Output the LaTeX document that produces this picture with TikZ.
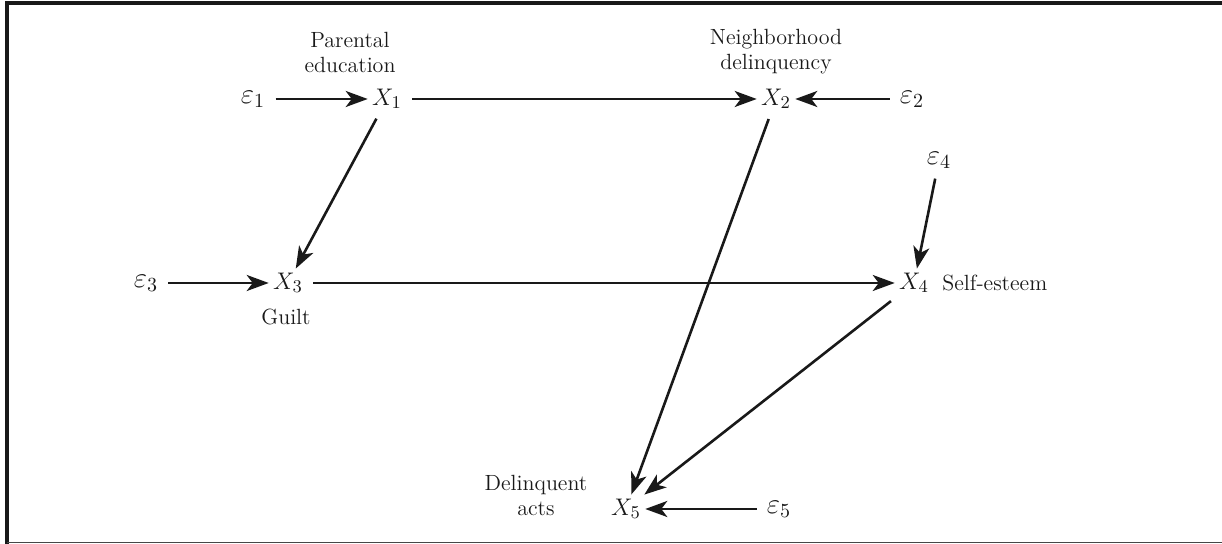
\documentclass[tikz,border=0pt]{standalone}
\usepackage{tikz}
\usetikzlibrary{arrows.meta}
\definecolor{ink}{RGB}{25,25,25}
\definecolor{rule}{RGB}{70,70,70}
\tikzset{
  var/.style={inner sep=2pt, font=\fontsize{13}{15}\selectfont, text=ink},
  err/.style={inner sep=2pt, font=\fontsize{14}{16}\selectfont, text=ink},
  lbl/.style={align=center, font=\fontsize{11}{12.5}\selectfont, text=ink, inner sep=0pt},
  arr/.style={-{Stealth[length=11pt,width=8pt,inset=3pt]}, line width=1.3pt, draw=ink, shorten <=3pt},
}

\begin{document}
\begin{tikzpicture}[x=0.5pt,y=-0.5pt]
  \useasboundingbox (0,0) rectangle (1222,544);

  % frame
  \draw[line width=1.6pt, draw=ink] (1222,3) -- (7,3) -- (7,544);
  \draw[line width=0.8pt, draw=rule] (7,542.5) -- (1222,542.5);

  % variables
  \node[var] (x1) at (387,99) {$X_1$};
  \node[var] (x2) at (776,99) {$X_2$};
  \node[var] (x3) at (288,283) {$X_3$};
  \node[var] (x4) at (914,283) {$X_4$};
  \node[var] (x5) at (626,509) {$X_5$};

  % disturbances
  \node[err] (e1) at (253,99) {$\varepsilon_1$};
  \node[err] (e2) at (912,99) {$\varepsilon_2$};
  \node[err] (e3) at (146,283) {$\varepsilon_3$};
  \node[err] (e4) at (939,160) {$\varepsilon_4$};
  \node[err] (e5) at (779,509) {$\varepsilon_5$};

  % labels
  \node[lbl] (l1) at (350,52) {Parental\\education};
  \node[lbl] (l2) at (776,52) {Neighborhood\\delinquency};
  \node[lbl] (l3) at (286,317) {Guilt};
  \node[lbl, anchor=west] (l4) at (942,283) {Self-esteem};
  \node[lbl] (l5) at (536,495) {Delinquent\\acts};

  % paths
  \draw[arr] (e1) -- (x1);
  \draw[arr] (x1) -- (x2);
  \draw[arr] (e2) -- (x2);
  \draw[arr] (x1) -- (x3);
  \draw[arr] (e3) -- (x3);
  \draw[arr] (x3) -- (x4);
  \draw[arr] (e4) -- (x4);
  \draw[arr] (x2) -- (x5);
  \draw[arr] (x4) -- (x5);
  \draw[arr] (e5) -- (x5);
\end{tikzpicture}
\end{document}
